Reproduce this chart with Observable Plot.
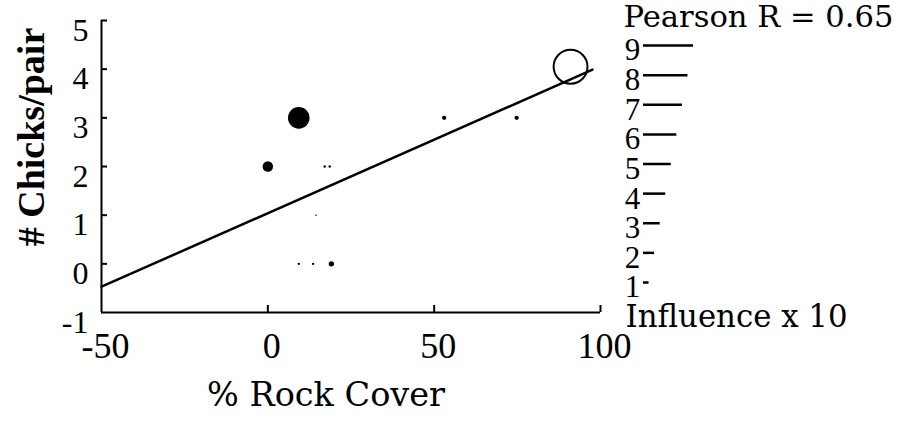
<!DOCTYPE html>
<html>
<head>
<meta charset="utf-8">
<script src="https://cdn.jsdelivr.net/npm/d3@7"></script>
<script src="https://cdn.jsdelivr.net/npm/@observablehq/plot@0.6"></script>
<style>
  html, body { margin: 0; padding: 0; background: white; }
  #wrap { position: relative; width: 900px; height: 423px; }
  #legend { position: absolute; left: 600px; top: 0; }
</style>
</head>
<body>
<div id="wrap"><div id="main"></div><div id="legend"></div></div>
<script>
// ---- data ----
const rockCover   = [91.0, 9.3, 0, 17.1, 18.6, 14.5, 9.3, 13.6, 19.1, 53.0, 74.8];
const chicksPair  = [4.05, 3.0, 2.0, 2.0, 2.0, 1.0, 0, 0, 0, 3.0, 3.0];
const influence   = [9.4, 6.0, 2.9, 0.65, 0.65, 0.4, 0.65, 0.65, 1.5, 1.2, 1.2];
const fitX = [-50, 97.6];
const fitY = [-0.47, 3.99];
const xTicks = [-50, 0, 50, 100];
const yTicks = [-1, 0, 1, 2, 3, 4, 5];
const legendLevels = [9, 8, 7, 6, 5, 4, 3, 2, 1];
const xTitle = "% Rock Cover";
const yTitle = "# Chicks/pair";
const pearsonLabel = "Pearson R = 0.65";
const influenceLabel = "Influence x 10";

const points = rockCover.map((x, i) => ({x, y: chicksPair[i], infl: influence[i]}));
const legendMax = d3.max(legendLevels);
const filled = points.filter(d => d.infl <= legendMax);
const open = points.filter(d => d.infl > legendMax);
const fit = fitX.map((x, i) => ({x, y: fitY[i]}));

const serif = "'DejaVu Serif', serif";
const times = "'Liberation Serif', serif";

const main = Plot.plot({
  width: 900, height: 423,
  marginLeft: 101, marginRight: 300, marginTop: 20, marginBottom: 111,
  style: {background: "white", color: "black"},
  x: {domain: [-50, 100], range: [101, 600]},
  y: {domain: [-1, 5], range: [312, 20]},
  r: {type: "linear", domain: [0, 10], range: [0, 18]},
  marks: [
    Plot.ruleX([-50], {stroke: "black", strokeWidth: 2}),
    Plot.ruleY([-1], {stroke: "black", strokeWidth: 2}),
    Plot.tickY(yTicks.filter(d => d > -1), {y: d => d, stroke: "black", strokeWidth: 2, insetRight: 493}),
    Plot.tickX(xTicks.filter(d => d > -50), {x: d => d, stroke: "black", strokeWidth: 2, insetTop: 285}),
    Plot.axisY(yTicks, {anchor: "left", tickSize: 0, tickPadding: 13, dy: 10, tickFormat: d => String(d),
      fontSize: 32, fontFamily: times, label: null, fill: "black"}),
    Plot.axisX(xTicks, {anchor: "bottom", tickSize: 0, tickPadding: 20, dx: 4, tickFormat: d => String(d),
      fontSize: 36, fontFamily: times, label: null, fill: "black"}),
    Plot.line(fit, {x: "x", y: "y", stroke: "black", strokeWidth: 2.5}),
    Plot.dot(filled, {x: "x", y: "y", r: "infl", fill: "black", stroke: "none"}),
    Plot.dot(open, {x: "x", y: "y", r: "infl", fill: "none", stroke: "black", strokeWidth: 2}),
    Plot.text([yTitle], {text: d => d, frameAnchor: "top-left", dx: -58, dy: 116.5, rotate: -90,
      textAnchor: "middle", lineAnchor: "bottom", fontSize: 38, fontWeight: "bold", fontFamily: times, fill: "black"}),
    Plot.text([xTitle], {text: d => d, frameAnchor: "bottom", dx: -25, dy: 93,
      textAnchor: "middle", lineAnchor: "bottom", fontSize: 33.5, fontFamily: serif, fill: "black"})
  ]
});
document.getElementById("main").appendChild(main);

const legend = Plot.plot({
  width: 300, height: 423,
  marginLeft: 0, marginRight: 0, marginTop: 0, marginBottom: 0,
  style: {background: "transparent", color: "black"},
  x: {domain: [0, 9], range: [43, 93], axis: null},
  y: {domain: [9, 1], range: [45, 282], axis: null},
  marks: [
    Plot.ruleY(legendLevels, {y: d => d, x1: () => 0, x2: d => d, stroke: "black", strokeWidth: 2.5}),
    Plot.text(legendLevels, {y: d => d, text: d => String(d), frameAnchor: "left", dx: 32, dy: 5,
      textAnchor: "middle", fontSize: 31, fontFamily: times, fill: "black"}),
    Plot.text([pearsonLabel], {text: d => d, frameAnchor: "top-left", dx: 23, dy: 26,
      textAnchor: "start", lineAnchor: "bottom", fontSize: 30.6, fontFamily: serif, fill: "black"}),
    Plot.text([influenceLabel], {text: d => d, frameAnchor: "top-left", dx: 25, dy: 326,
      textAnchor: "start", lineAnchor: "bottom", fontSize: 30.8, fontFamily: serif, fill: "black"})
  ]
});
document.getElementById("legend").appendChild(legend);
</script>
</body>
</html>
